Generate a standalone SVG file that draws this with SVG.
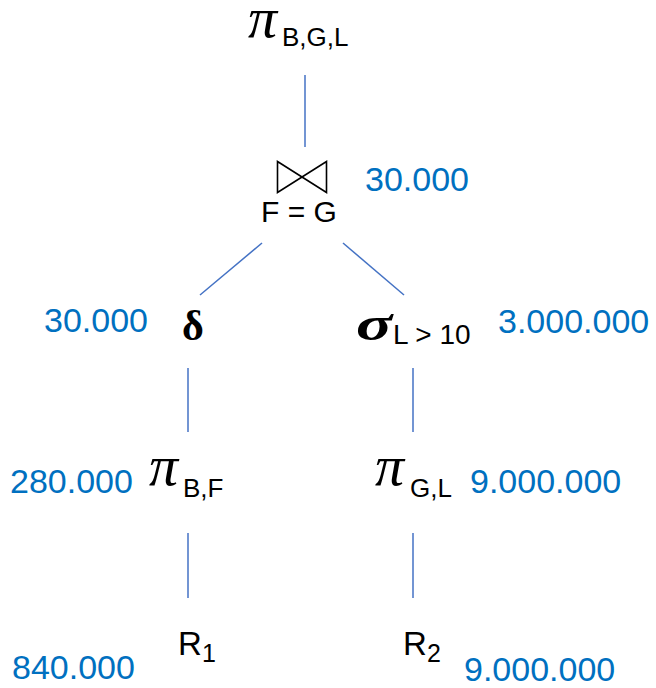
<svg xmlns="http://www.w3.org/2000/svg" width="656" height="688" viewBox="0 0 656 688">
<style>
.num{font-family:"Liberation Sans",Arial,sans-serif;font-size:34px;fill:#0070C0}
.lbl{font-family:"Liberation Sans",Arial,sans-serif;fill:#000}
.pi{font-family:"Liberation Serif","Times New Roman",serif;font-style:italic;font-size:58px;fill:#000}
.edge{stroke:#4472C4;stroke-width:1.5;fill:none}
</style>
<rect width="656" height="688" fill="#fff"/>
<g id="connectors">
<line class="edge" x1="305" y1="75" x2="305" y2="147"/>
<line class="edge" x1="262" y1="243" x2="200" y2="295"/>
<line class="edge" x1="343" y1="243" x2="404" y2="295"/>
<line class="edge" x1="188" y1="368" x2="188" y2="432"/>
<line class="edge" x1="413" y1="368" x2="413" y2="432"/>
<line class="edge" x1="188" y1="533" x2="188" y2="598"/>
<line class="edge" x1="413" y1="533" x2="413" y2="598"/>
</g>
<g id="proj_top">
<text class="pi" x="248" y="37">π</text>
<text class="lbl" x="282" y="46" font-size="26">B,G,L</text>
</g>
<g id="join">
<path d="M277.5,161.5 L326.5,192.5 L326.5,161.5 L277.5,192.5 Z" fill="none" stroke="#000" stroke-width="1.6" stroke-linejoin="miter"/>
<text class="lbl" x="299" y="222" font-size="30" text-anchor="middle">F = G</text>
<text class="num" x="365" y="191">30.000</text>
</g>
<g id="distinct">
<text x="182" y="340" font-family="Liberation Serif,serif" font-weight="bold" font-size="42" fill="#000">δ</text>
<text class="num" x="44" y="332">30.000</text>
</g>
<g id="select">
<text transform="translate(356,340) scale(1.4,1)" x="0" y="0" font-family="Liberation Serif,serif" font-weight="bold" font-style="italic" font-size="48" fill="#000">σ</text>
<text class="lbl" x="393" y="344" font-size="28">L &gt; 10</text>
<text class="num" x="498" y="333">3.000.000</text>
</g>
<g id="proj_left">
<text class="pi" x="149" y="485">π</text>
<text class="lbl" x="183" y="497" font-size="26">B,F</text>
<text class="num" x="10" y="493">280.000</text>
</g>
<g id="proj_right">
<text class="pi" x="375" y="485">π</text>
<text class="lbl" x="410" y="497" font-size="26">G,L</text>
<text class="num" x="470" y="493">9.000.000</text>
</g>
<g id="r1">
<text class="lbl" x="178" y="655" font-size="33">R</text>
<text class="lbl" x="202" y="662" font-size="25">1</text>
<text class="num" x="12" y="679">840.000</text>
</g>
<g id="r2">
<text class="lbl" x="403" y="655" font-size="33">R</text>
<text class="lbl" x="427" y="662" font-size="25">2</text>
<text class="num" x="464" y="681">9.000.000</text>
</g>
</svg>
